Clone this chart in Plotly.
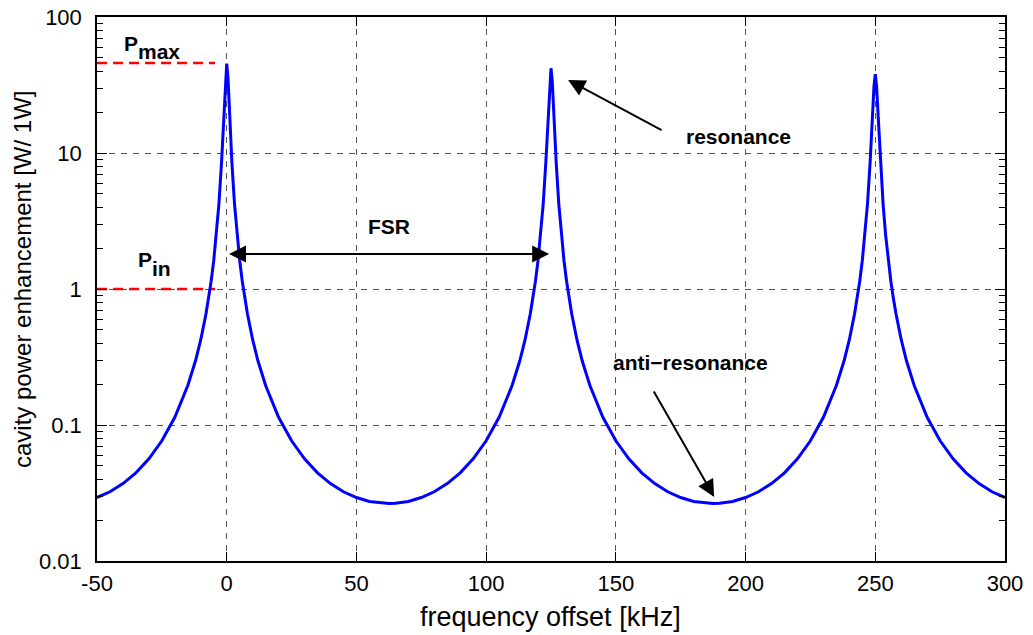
import math
import plotly.graph_objects as go

# ---- data ----
freq_khz = [
    -50, -45, -40, -35, -30, -25, -20, -15, -12, -10, -8, -7, -6, -5, -4, -3, -2, -1.5, -1, -0.5,
    0, 0.5, 1, 1.5, 2, 3, 4, 5, 6, 7, 8, 10, 12, 15, 20, 25, 30, 35, 40, 45, 50, 55, 60, 62.5,
    65, 70, 75, 80, 85, 90, 95, 100, 105, 110, 113, 115, 117, 118, 119, 120, 121, 122, 123, 123.5, 124, 124.5,
    125, 125.5, 126, 126.5, 127, 128, 129, 130, 131, 132, 133, 135, 137, 140, 145, 150, 155, 160, 165, 170, 175, 180, 185, 187.5,
    190, 195, 200, 205, 210, 215, 220, 225, 230, 235, 238, 240, 242, 243, 244, 245, 246, 247, 248, 248.5, 249, 249.5,
    250, 250.5, 251, 251.5, 252, 253, 254, 255, 256, 257, 258, 260, 262, 265, 270, 275, 280, 285, 290, 295, 300,
]
power = [
    0.0293, 0.0323, 0.0371, 0.0445, 0.0564, 0.0765, 0.114, 0.195, 0.298, 0.424, 0.654, 0.848, 1.14, 1.62, 2.48, 4.23, 8.50, 13.2, 21.7, 35.5,
    45.5, 35.5, 21.7, 13.2, 8.50, 4.23, 2.48, 1.62, 1.14, 0.848, 0.654, 0.424, 0.298, 0.195, 0.114, 0.0765, 0.0564, 0.0445, 0.0371, 0.0323, 0.0293, 0.0274, 0.0266, 0.0265,
    0.0266, 0.0274, 0.0293, 0.0323, 0.0371, 0.0445, 0.0564, 0.0765, 0.114, 0.195, 0.298, 0.424, 0.654, 0.848, 1.14, 1.62, 2.48, 4.23, 8.50, 13.2, 21.0, 33.5,
    42.0, 33.5, 21.0, 13.2, 8.50, 4.23, 2.48, 1.62, 1.14, 0.848, 0.654, 0.424, 0.298, 0.195, 0.114, 0.0765, 0.0564, 0.0445, 0.0371, 0.0323, 0.0293, 0.0274, 0.0266, 0.0265,
    0.0266, 0.0274, 0.0293, 0.0323, 0.0371, 0.0445, 0.0564, 0.0765, 0.114, 0.195, 0.298, 0.424, 0.654, 0.848, 1.14, 1.62, 2.48, 4.23, 8.50, 13.2, 20.5, 31.0,
    38.0, 31.0, 20.5, 13.2, 8.50, 4.23, 2.48, 1.62, 1.14, 0.848, 0.654, 0.424, 0.298, 0.195, 0.114, 0.0765, 0.0564, 0.0445, 0.0371, 0.0323, 0.0293,
]
p_max = 45.9
p_in = 1.0
ref_line_x = [-50, -4.5]

x_ticks = [-50, 0, 50, 100, 150, 200, 250, 300]
x_tick_labels = ["-50", "0", "50", "100", "150", "200", "250", "300"]
y_ticks = [0.01, 0.1, 1, 10, 100]
y_tick_labels = ["0.01", "0.1", "1", "10", "100"]
y_minor = [m * 10 ** e for e in range(-2, 2) for m in range(2, 10)]

FONT = "Liberation Sans, Arial, Helvetica, sans-serif"
# the page body adds an 8px margin at top/left; the figure fills the rest of the window
OFF = 8
W, H = 1033 - OFF, 635 - OFF
ML, MR, MT, MB = 89, 28, 9, 74
PW, PH = W - ML - MR, H - MT - MB


def px(xp):
    return (xp - OFF - ML) / PW


def py(yp):
    return (OFF + H - MB - yp) / PH


fig = go.Figure()
fig.add_trace(go.Scatter(x=ref_line_x, y=[p_max, p_max], mode="lines",
                         line=dict(color="#ff0000", width=2.5, dash="10px,6px"), showlegend=False))
fig.add_trace(go.Scatter(x=ref_line_x, y=[p_in, p_in], mode="lines",
                         line=dict(color="#ff0000", width=2.5, dash="10px,6px"), showlegend=False))
fig.add_trace(go.Scatter(x=freq_khz, y=power, mode="lines",
                         line=dict(color="#0000ff", width=3), showlegend=False))

L = math.log10
bold = dict(family=FONT, size=21, color="black")
annotations = [
    dict(x=px(122), y=py(43), text="<b>P</b>", xanchor="left", yanchor="middle"),
    dict(x=px(136), y=py(51), text="<b>max</b>", xanchor="left", yanchor="middle"),
    dict(x=px(136), y=py(260), text="<b>P</b>", xanchor="left", yanchor="middle"),
    dict(x=px(150), y=py(268), text="<b>in</b>", xanchor="left", yanchor="middle"),
    dict(x=px(389), y=py(227), text="<b>FSR</b>", xanchor="center", yanchor="middle"),
    dict(x=px(738), y=py(136), text="<b>resonance</b>", xanchor="center", yanchor="middle"),
    dict(x=px(690), y=py(362), text="<b>anti\u2212resonance</b>", xanchor="center", yanchor="middle"),
    dict(x=px(550), y=py(617), text="frequency offset [kHz]", xanchor="center", yanchor="middle",
         font=dict(family=FONT, size=27, color="black")),
    dict(x=px(22), y=py(280), text="cavity power enhancement [W/ 1W]", xanchor="center", yanchor="middle",
         textangle=-90, font=dict(family=FONT, size=24, color="black")),
]
for a in annotations:
    a.setdefault("font", bold)
    a["xref"] = "paper"
    a["yref"] = "paper"
    a["showarrow"] = False

arrows = [
    dict(x=124.3, y=L(1.81), ax=0.3, ay=L(1.81), arrowside="end+start"),
    dict(x=131.6, y=L(34.4), ax=168.2, ay=L(14.5)),
    dict(x=187.9, y=L(0.0296), ax=164.3, ay=L(0.181)),
]
for a in arrows:
    a.update(xref="x", yref="y", axref="x", ayref="y", text="", showarrow=True,
             arrowhead=2, arrowsize=1.7, startarrowhead=2, startarrowsize=1.7,
             arrowwidth=2, arrowcolor="black")

fig.update_layout(annotations=annotations + arrows)

fig.update_layout(
    width=W, height=H,
    margin=dict(l=ML, r=MR, t=MT, b=MB, autoexpand=False),
    paper_bgcolor="white", plot_bgcolor="white",
    font=dict(family=FONT, size=22, color="black"),
    xaxis=dict(
        range=[-50, 300], tickvals=x_ticks, ticktext=x_tick_labels,
        ticks="inside", ticklen=9, tickwidth=1.2, tickcolor="black",
        showline=True, linecolor="black", linewidth=1.5, mirror="ticks",
        showgrid=True, gridcolor="#555555", gridwidth=1, griddash="6px,6px", zeroline=False,
        tickfont=dict(size=22), ticklabelstandoff=2, automargin=False, ticklabeloverflow="allow",
    ),
    yaxis=dict(
        type="log", range=[-2, 2], tickvals=y_ticks, ticktext=y_tick_labels,
        ticks="inside", ticklen=10, tickwidth=1.2, tickcolor="black",
        showline=True, linecolor="black", linewidth=1.5, mirror="ticks",
        showgrid=True, gridcolor="#555555", gridwidth=1, griddash="6px,6px", zeroline=False,
        minor=dict(tickvals=y_minor, ticks="inside", ticklen=6, tickcolor="black", showgrid=False),
        tickfont=dict(size=22), ticklabelstandoff=9, automargin=False, ticklabeloverflow="allow",
    ),
)

fig.write_html("out.html")
